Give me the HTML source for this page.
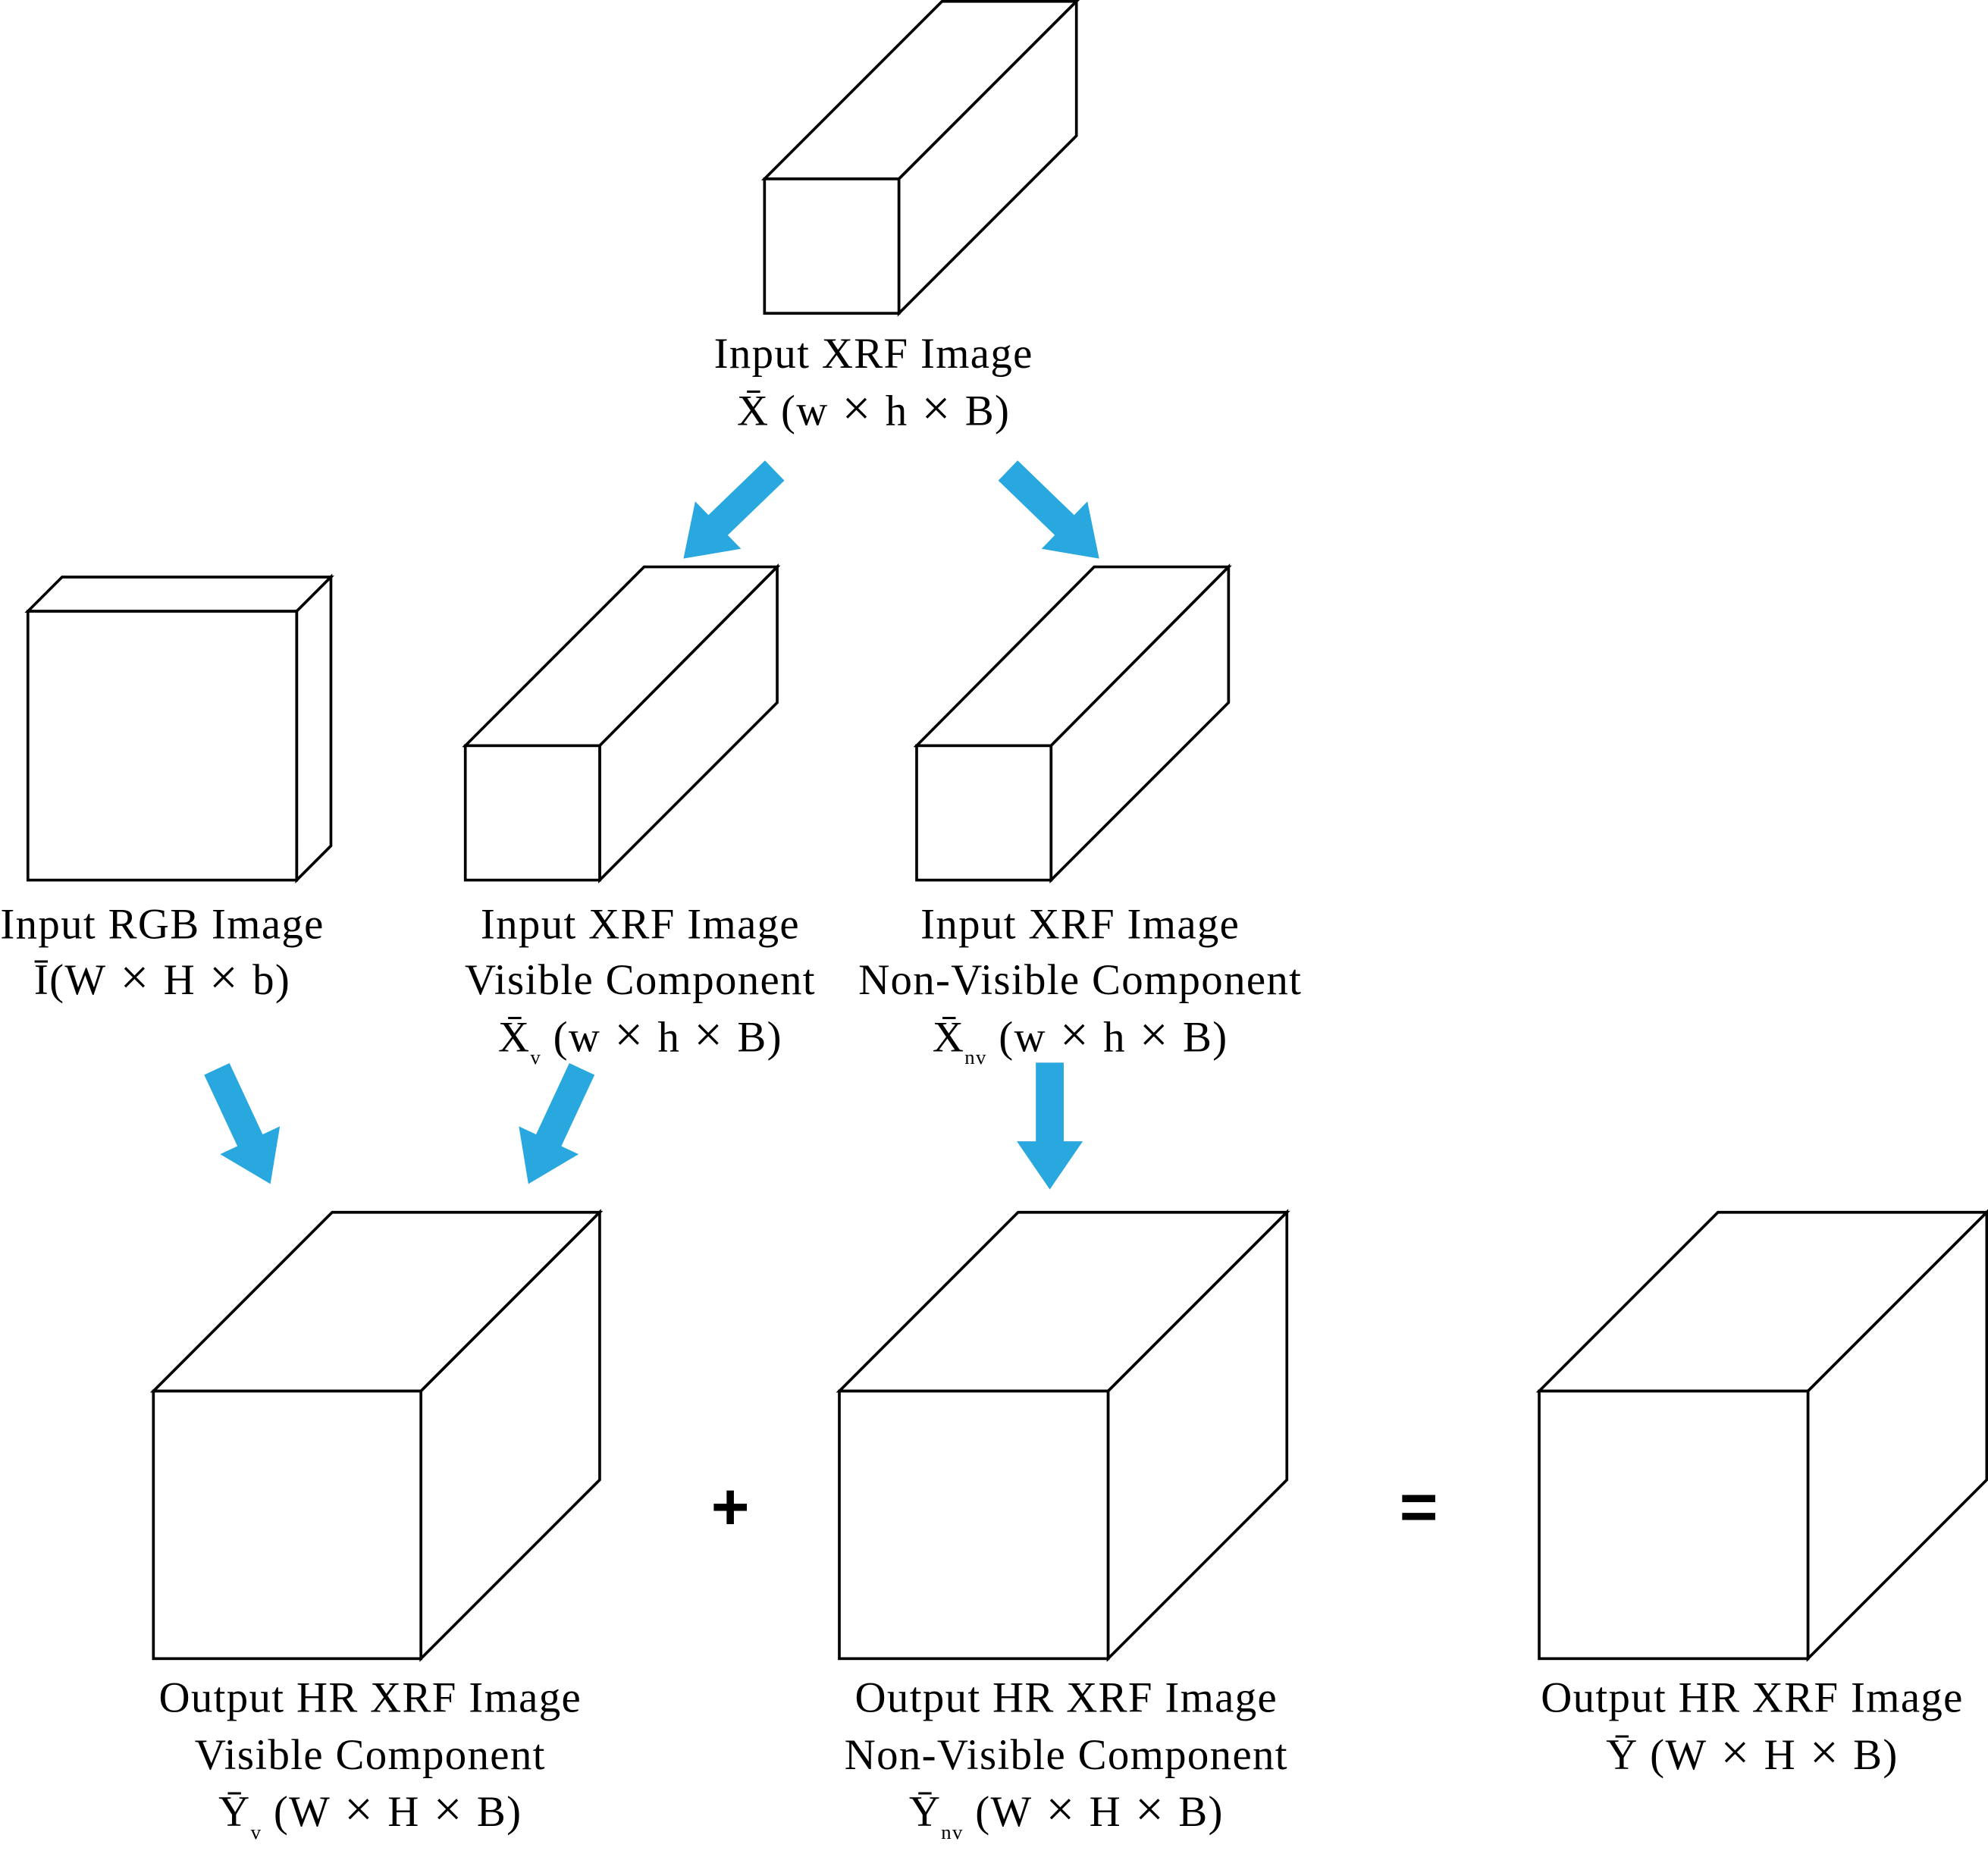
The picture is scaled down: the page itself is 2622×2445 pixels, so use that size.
<!DOCTYPE html>
<html><head><meta charset="utf-8"><style>html,body{margin:0;padding:0;background:#fff}svg{display:block}</style></head>
<body>
<svg width="2622" height="2445" viewBox="0 0 1568 1462" xmlns="http://www.w3.org/2000/svg">
<defs>
<g id="arr"><polygon points="0,-11 62,-11 62,-26 100,0 62,26 62,11 0,11" fill="#29a8e0"/></g>
</defs>
<g fill="#fff" stroke="#000" stroke-width="2.2" stroke-linejoin="miter">
<polygon points="603,141 743,1 849,1 709,141"/><polygon points="709,141 849,1 849,107 709,247"/><rect x="603" y="141" width="106" height="106"/>
<polygon points="22,482 49,455 261,455 234,482"/><polygon points="234,482 261,455 261,667 234,694"/><rect x="22" y="482" width="212" height="212"/>
<polygon points="367,588 508,447 613,447 473,588"/><polygon points="473,588 613,447 613,554 473,694"/><rect x="367" y="588" width="106" height="106"/>
<polygon points="723,588 863,447 969,447 829,588"/><polygon points="829,588 969,447 969,554 829,694"/><rect x="723" y="588" width="106" height="106"/>
<polygon points="121,1097 262,956 473,956 332,1097"/><polygon points="332,1097 473,956 473,1167 332,1308"/><rect x="121" y="1097" width="211" height="211"/>
<polygon points="662,1097 803,956 1015,956 874,1097"/><polygon points="874,1097 1015,956 1015,1167 874,1308"/><rect x="662" y="1097" width="212" height="211"/>
<polygon points="1214,1097 1355,956 1567,956 1426,1097"/><polygon points="1426,1097 1567,956 1567,1167 1426,1308"/><rect x="1214" y="1097" width="212" height="211"/>
</g>
<use href="#arr" transform="translate(611,371) rotate(136)"/>
<use href="#arr" transform="translate(795,371) rotate(44)"/>
<use href="#arr" transform="translate(171,843) rotate(65)"/>
<use href="#arr" transform="translate(459,843) rotate(115)"/>
<use href="#arr" transform="translate(828,838) rotate(90)"/>
<g font-family="Liberation Serif, serif" font-size="34" letter-spacing="0.8" text-anchor="middle" fill="#000">
<text x="689" y="290">Input XRF Image</text>
<text x="689" y="335">X̄ (w<tspan font-size="40"> × </tspan>h<tspan font-size="40"> × </tspan>B)</text>
<text x="128" y="740">Input RGB Image</text>
<text x="128" y="784">Ī(W<tspan font-size="40"> × </tspan>H<tspan font-size="40"> × </tspan>b)</text>
<text x="505" y="740">Input XRF Image</text>
<text x="505" y="784">Visible Component</text>
<text x="505" y="829">X̄<tspan font-size="16" dy="10">v</tspan><tspan dy="-10"> (w</tspan><tspan font-size="40"> × </tspan>h<tspan font-size="40"> × </tspan>B)</text>
<text x="852" y="740">Input XRF Image</text>
<text x="852" y="784">Non-Visible Component</text>
<text x="852" y="829">X̄<tspan font-size="16" dy="10">nv</tspan><tspan dy="-10"> (w</tspan><tspan font-size="40"> × </tspan>h<tspan font-size="40"> × </tspan>B)</text>
<text x="292" y="1350">Output HR XRF Image</text>
<text x="292" y="1395">Visible Component</text>
<text x="292" y="1440">Ȳ<tspan font-size="16" dy="10">v</tspan><tspan dy="-10"> (W</tspan><tspan font-size="40"> × </tspan>H<tspan font-size="40"> × </tspan>B)</text>
<text x="841" y="1350">Output HR XRF Image</text>
<text x="841" y="1395">Non-Visible Component</text>
<text x="841" y="1440">Ȳ<tspan font-size="16" dy="10">nv</tspan><tspan dy="-10"> (W</tspan><tspan font-size="40"> × </tspan>H<tspan font-size="40"> × </tspan>B)</text>
<text x="1382" y="1350">Output HR XRF Image</text>
<text x="1382" y="1395">Ȳ (W<tspan font-size="40"> × </tspan>H<tspan font-size="40"> × </tspan>B)</text>
</g>
<g font-family="Liberation Sans, sans-serif" font-size="52" font-weight="bold" text-anchor="middle">
<text x="576" y="1206">+</text>
<text x="1119" y="1206">=</text>
</g>
</svg>
</body></html>
